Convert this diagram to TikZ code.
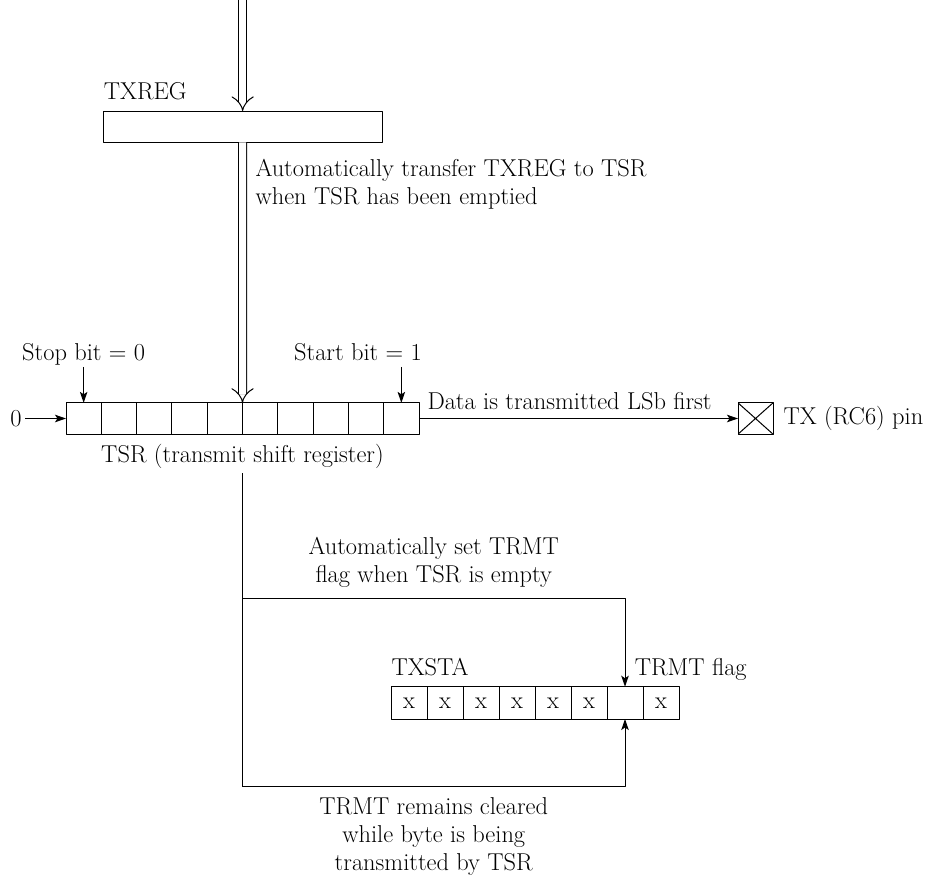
\documentclass[tikz,border=0pt]{standalone}
\usetikzlibrary{arrows.meta,positioning,calc}
\tikzset{
  regcell/.style={draw, minimum width=35.3bp, minimum height=31.3bp, inner sep=0pt, outer sep=0pt},
  flagcell/.style={draw, minimum width=36bp, minimum height=32.3bp, inner sep=0pt, outer sep=0pt},
  bus/.style={double, double distance=7bp, -{Implies}},
  note/.style={inner sep=0pt, align=left},
  pinbox/.style={draw, minimum width=35bp, minimum height=31.3bp, inner sep=0pt, outer sep=0pt,
    path picture={\draw (path picture bounding box.north west) -- (path picture bounding box.south east)
      (path picture bounding box.south west) -- (path picture bounding box.north east);}},
}
\begin{document}
\begin{tikzpicture}[x=1bp, y=-1bp, line width=1bp, line join=round,
    font=\fontsize{24.4bp}{28bp}\selectfont, >={Stealth[length=11bp,width=7.5bp,inset=2.5bp]}]
  \useasboundingbox (0,0) rectangle (925,880);
  % transmit buffer
  \coordinate (busin) at (242.65,0);
  \node[draw, minimum width=278.7bp, minimum height=31.3bp, inner sep=0pt, outer sep=0pt] (txreg) at (242.65,126.65) {};
  \node[note, above right=10.3bp and 0bp of txreg.north west] (txreglbl) {TXREG};
  \draw[bus] (busin) -- (txreg.north);
  % shift register
  \foreach \i in {1,...,10}
    \node[regcell] (tsr\i) at ({66+35.3*(\i-0.5)},418.5) {};
  \draw[bus] (txreg.south) -- (tsr5.north east);
  \node[note, below right=16.8bp and 12.35bp of txreg.south] (xferlbl) {Automatically transfer TXREG to TSR\\when TSR has been emptied};
  \node[note, below=9.4bp of tsr5.south east] (tsrlbl) {TSR (transmit shift register)};
  \coordinate[above=36bp of tsr1.north] (stoptop);
  \coordinate[above=36bp of tsr10.north] (starttop);
  \draw[->] (stoptop) node[note, anchor=base, yshift=6bp] (stoplbl) {Stop bit = 0} -- (tsr1.north);
  \draw[->] (starttop) node[note, anchor=base east, xshift=21bp, yshift=6bp] (startlbl) {Start bit = 1} -- (tsr10.north);
  \node (zero) at (16,418.5) {0};
  \draw[->] (zero) -- (tsr1.west);
  % output pin
  \node[pinbox] (txpin) at (755.5,418.5) {};
  \node[note, right=10bp of txpin] (txpinlbl) {TX (RC6) pin};
  \draw[->] (tsr10.east) -- (txpin.west) node[note, pos=0, anchor=base west, xshift=8bp, yshift=9.5bp] {Data is transmitted LSb first};
  % status register
  \foreach \i/\v in {1/x,2/x,3/x,4/x,5/x,6/x,7/,8/x}
    \node[flagcell] (txsta\i) at ({391+36*(\i-0.5)},702.85) {\v};
  \node[note, above right=10.7bp and 0bp of txsta1.north west] (txstalbl) {TXSTA};
  \node[note, above right=6bp and 9.3bp of txsta7.north] (trmtlbl) {TRMT flag};
  % feedback from TSR
  \coordinate (fbk) at (242.5,473.3);
  \coordinate (setpt) at (242.5,598);
  \coordinate (clrpt) at (242.5,786.7);
  \draw (fbk) -- (clrpt);
  \draw[->] (setpt) -| (txsta7.north) node[note, align=center, pos=0.25, above=10.3bp] {Automatically set TRMT\\flag when TSR is empty};
  \draw[->] (clrpt) -| (txsta7.south) node[note, align=center, pos=0.25, below=10.4bp] {TRMT remains cleared\\while byte is being\\transmitted by TSR};
\end{tikzpicture}
\end{document}
